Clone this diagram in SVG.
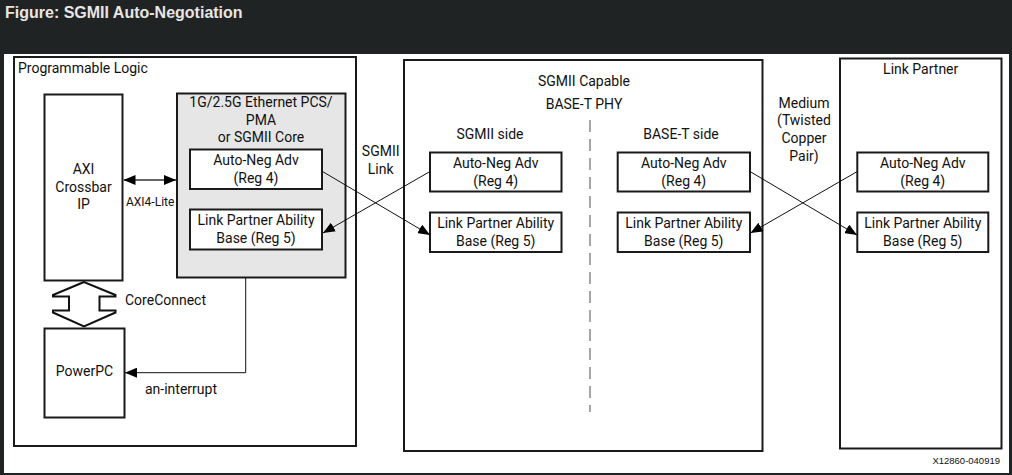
<svg xmlns="http://www.w3.org/2000/svg" width="1012" height="475" viewBox="0 0 1012 475">
<defs>
<style>
.t{font-family:Roboto,"Liberation Sans",sans-serif;font-size:14px;fill:#111}
.s{font-size:12px}
.c{text-anchor:middle}
.box{fill:#fff;stroke:#1a1a1a;stroke-width:2}
.ln{stroke:#111;stroke-width:1;fill:none}
</style>
<marker id="ah" viewBox="0 0 12 10" refX="12" refY="5" markerWidth="12" markerHeight="10" markerUnits="userSpaceOnUse" orient="auto-start-reverse">
<path d="M0,0 L12,5 L0,10 z" fill="#000"/>
</marker>
</defs>
<rect x="0" y="0" width="1012" height="475" fill="#202324"/>
<text x="5" y="18" font-family="Liberation Sans,Arial,sans-serif" font-size="16" font-weight="bold" fill="#e8e6e3">Figure: SGMII Auto-Negotiation</text>
<rect x="4" y="54" width="1005" height="419" fill="#fff"/>

<g id="programmable-logic">
<rect class="box" x="14" y="57" width="342" height="389"/>
<text class="t" x="18" y="73">Programmable Logic</text>
</g>
<g id="axi-crossbar">
<rect class="box" x="44.5" y="94.5" width="78" height="186"/>
<text class="t c" x="83.5" y="174">AXI</text>
<text class="t c" x="83.5" y="192">Crossbar</text>
<text class="t c" x="83.5" y="209">IP</text>
</g>
<g id="powerpc">
<rect class="box" x="44.5" y="328.5" width="80" height="89"/>
<text class="t c" x="84.5" y="376">PowerPC</text>
</g>
<g id="core">
<rect x="177" y="93.5" width="168.5" height="184" fill="#e6e6e6" stroke="#1a1a1a" stroke-width="2"/>
<text class="t c" x="261" y="107">1G/2.5G Ethernet PCS/</text>
<text class="t c" x="261" y="124.5">PMA</text>
<text class="t c" x="261" y="142">or SGMII Core</text>
</g>
<g id="core-adv">
<rect class="box" x="190" y="149.5" width="132" height="39.5"/>
<text class="t c" x="256" y="164.5">Auto-Neg Adv</text>
<text class="t c" x="256" y="183">(Reg 4)</text>
</g>
<g id="core-lpa">
<rect class="box" x="190" y="209.5" width="132" height="40"/>
<text class="t c" x="256" y="225">Link Partner Ability</text>
<text class="t c" x="256" y="243">Base (Reg 5)</text>
</g>

<g id="phy">
<rect class="box" x="404" y="60" width="358.5" height="391"/>
<text class="t c" x="584" y="86">SGMII Capable</text>
<text class="t c" x="584" y="108.5">BASE-T PHY</text>
<line x1="590" y1="120" x2="590" y2="412" stroke="#888" stroke-width="1.5" stroke-dasharray="12 7"/>
<text class="t c" x="490" y="138.5">SGMII side</text>
<text class="t c" x="681" y="138.5">BASE-T side</text>
</g>
<g id="phy-sgmii-adv">
<rect class="box" x="430" y="152.5" width="131.5" height="39"/>
<text class="t c" x="495.7" y="167.5">Auto-Neg Adv</text>
<text class="t c" x="495.7" y="186">(Reg 4)</text>
</g>
<g id="phy-sgmii-lpa">
<rect class="box" x="430" y="212.5" width="131.5" height="39.5"/>
<text class="t c" x="495.7" y="228">Link Partner Ability</text>
<text class="t c" x="495.7" y="246">Base (Reg 5)</text>
</g>
<g id="phy-baset-adv">
<rect class="box" x="617.7" y="152.5" width="132.3" height="39"/>
<text class="t c" x="683.8" y="167.5">Auto-Neg Adv</text>
<text class="t c" x="683.8" y="186">(Reg 4)</text>
</g>
<g id="phy-baset-lpa">
<rect class="box" x="617.7" y="212.5" width="132.3" height="39.5"/>
<text class="t c" x="683.8" y="228">Link Partner Ability</text>
<text class="t c" x="683.8" y="246">Base (Reg 5)</text>
</g>

<g id="link-partner">
<rect class="box" x="840" y="58.5" width="161.5" height="390"/>
<text class="t c" x="920.7" y="74">Link Partner</text>
</g>
<g id="lp-adv">
<rect class="box" x="857.3" y="152.5" width="131" height="39"/>
<text class="t c" x="922.8" y="167.5">Auto-Neg Adv</text>
<text class="t c" x="922.8" y="186">(Reg 4)</text>
</g>
<g id="lp-lpa">
<rect class="box" x="857.3" y="212.5" width="131" height="39.5"/>
<text class="t c" x="922.8" y="228">Link Partner Ability</text>
<text class="t c" x="922.8" y="246">Base (Reg 5)</text>
</g>

<g id="connectors">
<line x1="123.5" y1="180" x2="176" y2="180" stroke="#666" stroke-width="2" marker-start="url(#ah)" marker-end="url(#ah)"/>
<path d="M84,282 L53,295 L53,296.5 L69,296.5 L69,310.5 L53,310.5 L53,312.5 L84,326.5 L115.5,312.5 L115.5,310.5 L99.5,310.5 L99.5,296.5 L115.5,296.5 L115.5,295 Z" fill="#fff" stroke="#111" stroke-width="2" stroke-linejoin="miter"/>
<polyline class="ln" points="245.7,278 245.7,372.7 125,372.7" marker-end="url(#ah)"/>
<line class="ln" x1="322.5" y1="171.5" x2="430" y2="235" marker-end="url(#ah)"/>
<line class="ln" x1="430" y1="171.5" x2="323" y2="233" marker-end="url(#ah)"/>
<line class="ln" x1="750" y1="171.5" x2="857" y2="235" marker-end="url(#ah)"/>
<line class="ln" x1="857.3" y1="171.5" x2="750.5" y2="233" marker-end="url(#ah)"/>
</g>

<g id="labels">
<text class="t s" x="126" y="205.5">AXI4-Lite</text>
<text class="t" x="125" y="305">CoreConnect</text>
<text class="t" x="145" y="394">an-interrupt</text>
<text class="t c" x="380.7" y="156">SGMII</text>
<text class="t c" x="380.7" y="173.5">Link</text>
<text class="t c" x="804" y="107.5">Medium</text>
<text class="t c" x="804" y="125">(Twisted</text>
<text class="t c" x="804" y="143">Copper</text>
<text class="t c" x="804" y="160.5">Pair)</text>
<text x="1000" y="463.5" font-family="Liberation Sans,Arial,sans-serif" font-size="9.5" fill="#111" text-anchor="end">X12860-040919</text>
</g>
</svg>
